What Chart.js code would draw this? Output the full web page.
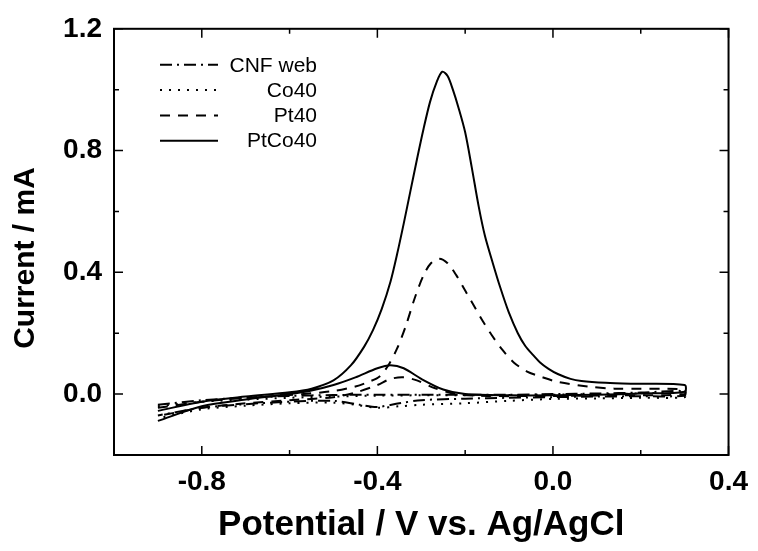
<!DOCTYPE html>
<html>
<head>
<meta charset="utf-8">
<script src="https://cdn.jsdelivr.net/npm/chart.js@4"></script>
<style>
  body { margin: 0; background: #fff; }
  canvas { display: block; }
</style>
</head>
<body>
<canvas id="chart" width="758" height="551"></canvas>
<script>
// Axis ticks
const xMajor = [-0.8, -0.4, 0.0, 0.4];
const xMinor = [-0.6, -0.2, 0.2];
const yMajor = [0.0, 0.4, 0.8, 1.2];
const yMinor = [0.2, 0.6, 1.0];

// Series names (legend order)
const seriesNames = ["CNF web", "Co40", "Pt40", "PtCo40"];
const yTitle = "Current / mA";

// CNF web: forward scan then reverse scan
const cnfV = [-0.9, -0.8, -0.7, -0.6, -0.5, -0.4, -0.3, -0.2, -0.1, 0.0, 0.1, 0.2, 0.3,
              0.3, 0.2, 0.1, 0.0, -0.1, -0.2, -0.3, -0.35, -0.4, -0.44, -0.5, -0.6, -0.7, -0.8, -0.9];
const cnfI = [-0.035, -0.02, -0.012, -0.006, -0.003, -0.002, -0.002, -0.002, -0.002, 0.0, 0.002, 0.005, 0.01,
              -0.005, -0.007, -0.008, -0.01, -0.012, -0.015, -0.02, -0.03, -0.042, -0.035, -0.022, -0.025, -0.033, -0.045, -0.07];

// Co40
const co40V = [-0.9, -0.8, -0.7, -0.6, -0.5, -0.4, -0.3, -0.2, -0.1, 0.0, 0.1, 0.2, 0.3,
               0.3, 0.2, 0.1, 0.0, -0.1, -0.2, -0.3, -0.35, -0.4, -0.45, -0.5, -0.6, -0.7, -0.8, -0.9];
const co40I = [-0.04, -0.025, -0.018, -0.012, -0.008, -0.005, -0.004, -0.004, -0.003, -0.002, 0.0, 0.002, 0.005,
               -0.01, -0.012, -0.014, -0.016, -0.022, -0.03, -0.035, -0.04, -0.045, -0.035, -0.028, -0.03, -0.038, -0.05, -0.08];

// Pt40
const pt40V = [-0.9, -0.8, -0.7, -0.6, -0.5, -0.45, -0.42, -0.395, -0.375, -0.355, -0.335, -0.315, -0.295, -0.278, -0.259,
               -0.24, -0.22, -0.2, -0.18, -0.16, -0.14, -0.115, -0.09, -0.06, -0.025, 0.011, 0.08, 0.14, 0.3,
               0.3, 0.15, 0.0, -0.15, -0.22, -0.27, -0.31, -0.34, -0.37, -0.4, -0.45, -0.5, -0.6, -0.7, -0.8, -0.9];
const pt40I = [-0.045, -0.025, -0.012, -0.003, 0.01, 0.025, 0.04, 0.058, 0.095, 0.15, 0.225, 0.315, 0.39, 0.43, 0.445,
               0.43, 0.39, 0.34, 0.29, 0.24, 0.195, 0.145, 0.105, 0.075, 0.056, 0.04, 0.025, 0.018, 0.015,
               0.0, -0.004, -0.006, -0.006, 0.0, 0.02, 0.045, 0.055, 0.05, 0.03, 0.005, -0.01, -0.02, -0.03, -0.045, -0.072];

// PtCo40
const ptco40V = [-0.9, -0.8, -0.7, -0.6, -0.55, -0.5, -0.46, -0.43, -0.41, -0.39, -0.37, -0.355, -0.34, -0.325, -0.31,
                 -0.295, -0.28, -0.265, -0.252, -0.24, -0.228, -0.214, -0.2, -0.185, -0.169, -0.155, -0.137, -0.12,
                 -0.101, -0.08, -0.063, -0.045, -0.03, -0.01, 0.011, 0.04, 0.065, 0.12, 0.18, 0.3,
                 0.3, 0.2, 0.1, 0.0, -0.1, -0.2, -0.25, -0.3, -0.34, -0.37, -0.4, -0.45, -0.5, -0.55, -0.6, -0.7, -0.8, -0.9];
const ptco40I = [-0.055, -0.025, -0.008, 0.006, 0.018, 0.045, 0.095, 0.156, 0.21, 0.28, 0.37, 0.46, 0.56, 0.665, 0.77,
                 0.87, 0.96, 1.025, 1.059, 1.045, 1.0, 0.935, 0.86, 0.745, 0.615, 0.52, 0.43, 0.35,
                 0.27, 0.2, 0.158, 0.128, 0.105, 0.083, 0.066, 0.05, 0.043, 0.037, 0.034, 0.03,
                 0.008, 0.002, -0.002, -0.004, -0.004, 0.0, 0.015, 0.05, 0.085, 0.095, 0.085, 0.055, 0.03, 0.012, 0.0, -0.018, -0.04, -0.088];

function pairs(xs, ys) {
  return xs.map(function(x, i) { return { x: x, y: ys[i] }; });
}

const fontFamily = "'Liberation Sans', Arial, sans-serif";

// frame with inward ticks on all four sides, y title and legend
const framePlugin = {
  id: "frame",
  afterDatasetsDraw: function(chart) {
    var ctx = chart.ctx;
    var a = chart.chartArea;
    var xs = chart.scales.x, ys = chart.scales.y;
    ctx.save();
    ctx.strokeStyle = "#000";
    ctx.lineWidth = 2;
    ctx.setLineDash([]);
    ctx.strokeRect(a.left, a.top, a.right - a.left, a.bottom - a.top);
    ctx.lineWidth = 1.5;
    ctx.beginPath();
    function xt(v, len) {
      var p = xs.getPixelForValue(v);
      ctx.moveTo(p, a.bottom); ctx.lineTo(p, a.bottom - len);
      ctx.moveTo(p, a.top); ctx.lineTo(p, a.top + len);
    }
    function yt(v, len) {
      var p = ys.getPixelForValue(v);
      ctx.moveTo(a.left, p); ctx.lineTo(a.left + len, p);
      ctx.moveTo(a.right, p); ctx.lineTo(a.right - len, p);
    }
    xMajor.forEach(function(v) { xt(v, 9); });
    xMinor.forEach(function(v) { xt(v, 5); });
    yMajor.forEach(function(v) { yt(v, 9); });
    yMinor.forEach(function(v) { yt(v, 5); });
    ctx.stroke();

    // y axis title (sits a little below the axis centre in the original)
    ctx.fillStyle = "#000";
    ctx.font = "bold 30px " + fontFamily;
    ctx.textAlign = "center";
    ctx.textBaseline = "middle";
    ctx.translate(26, 258);
    ctx.rotate(-Math.PI / 2);
    ctx.fillText(yTitle, 0, 0);
    ctx.setTransform(1, 0, 0, 1, 0, 0);

    // legend
    ctx.font = "21px " + fontFamily;
    ctx.textAlign = "right";
    chart.data.datasets.forEach(function(ds, i) {
      var y = a.top + 36 + i * 25.3;
      ctx.lineWidth = ds.borderWidth;
      ctx.setLineDash(ds.borderDash || []);
      ctx.beginPath();
      ctx.moveTo(a.left + 46, y);
      ctx.lineTo(a.left + 104, y);
      ctx.stroke();
      ctx.setLineDash([]);
      ctx.fillText(ds.label, a.left + 203, y + 1);
    });
    ctx.restore();
  }
};

const tickFont = { family: fontFamily, size: 28, weight: "bold" };

new Chart(document.getElementById("chart"), {
  type: "scatter",
  data: {
    datasets: [
      { label: seriesNames[0], data: pairs(cnfV, cnfI), borderDash: [12, 5, 2, 5] },
      { label: seriesNames[1], data: pairs(co40V, co40I), borderDash: [2, 7] },
      { label: seriesNames[2], data: pairs(pt40V, pt40I), borderDash: [10, 8] },
      { label: seriesNames[3], data: pairs(ptco40V, ptco40I), borderDash: [] }
    ].map(function(d) {
      d.showLine = true;
      d.borderColor = "#000";
      d.backgroundColor = "#000";
      d.borderWidth = 2;
      d.pointRadius = 0;
      d.tension = 0.3;
      return d;
    })
  },
  options: {
    responsive: false,
    devicePixelRatio: 1,
    animation: false,
    layout: { padding: { top: 26, right: 22, left: 0, bottom: 0 } },
    plugins: { legend: { display: false }, tooltip: { enabled: false } },
    scales: {
      x: {
        type: "linear",
        min: -1.0,
        max: 0.4,
        afterBuildTicks: function(s) { s.ticks = xMajor.map(function(v) { return { value: v }; }); },
        afterFit: function(s) { s.height = 96; },
        grid: { display: false, drawTicks: false },
        border: { display: false },
        ticks: { font: tickFont, color: "#000", padding: 10, maxRotation: 0,
                 callback: function(v) { return v.toFixed(1); } },
        title: { display: true, text: "Potential / V vs. Ag/AgCl", color: "#000",
                 font: { family: fontFamily, size: 35, weight: "bold" },
                 padding: { top: 0, bottom: 5 } }
      },
      y: {
        min: -0.2,
        max: 1.2,
        afterBuildTicks: function(s) { s.ticks = yMajor.map(function(v) { return { value: v }; }); },
        afterFit: function(s) { s.width = 114; },
        grid: { display: false, drawTicks: false },
        border: { display: false },
        ticks: { font: tickFont, color: "#000", padding: 12,
                 callback: function(v) { return v.toFixed(1); } },
        title: { display: false }
      }
    }
  },
  plugins: [framePlugin]
});
</script>
</body>
</html>
